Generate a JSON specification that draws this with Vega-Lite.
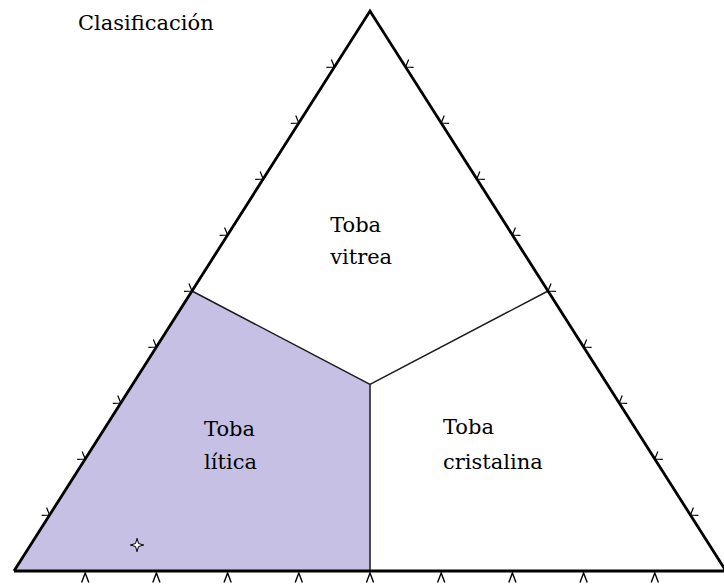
{
  "$schema": "https://vega.github.io/schema/vega-lite/v6.json",
  "width": 712,
  "height": 560,
  "padding": {"left": 14, "top": 11, "right": 0, "bottom": 13},
  "autosize": {"type": "none"},
  "background": "white",
  "config": {"view": {"stroke": null}},
  "datasets": {
    "outline": [
      {"i": 0, "x": 0, "y": 0},
      {"i": 1, "x": 0.5, "y": 1},
      {"i": 2, "x": 1, "y": 0},
      {"i": 3, "x": 0, "y": 0}
    ],
    "litica": [
      {"x": 0, "y": 0},
      {"x": 0.25, "y": 0.5},
      {"x": 0.5, "y": 0.3333}
    ],
    "bounds": [
      {"x": 0.5, "y": 0.3333, "x2": 0.25, "y2": 0.5},
      {"x": 0.5, "y": 0.3333, "x2": 0.75, "y2": 0.5},
      {"x": 0.5, "y": 0.3333, "x2": 0.5, "y2": 0}
    ],
    "ticksBottom": [
      {"x": 0.1, "y": 0}, {"x": 0.2, "y": 0}, {"x": 0.3, "y": 0},
      {"x": 0.4, "y": 0}, {"x": 0.5, "y": 0}, {"x": 0.6, "y": 0},
      {"x": 0.7, "y": 0}, {"x": 0.8, "y": 0}, {"x": 0.9, "y": 0}
    ],
    "ticksLeft": [
      {"x": 0.05, "y": 0.1}, {"x": 0.1, "y": 0.2}, {"x": 0.15, "y": 0.3},
      {"x": 0.2, "y": 0.4}, {"x": 0.25, "y": 0.5}, {"x": 0.3, "y": 0.6},
      {"x": 0.35, "y": 0.7}, {"x": 0.4, "y": 0.8}, {"x": 0.45, "y": 0.9}
    ],
    "ticksRight": [
      {"x": 0.95, "y": 0.1}, {"x": 0.9, "y": 0.2}, {"x": 0.85, "y": 0.3},
      {"x": 0.8, "y": 0.4}, {"x": 0.75, "y": 0.5}, {"x": 0.7, "y": 0.6},
      {"x": 0.65, "y": 0.7}, {"x": 0.6, "y": 0.8}, {"x": 0.55, "y": 0.9}
    ],
    "sample": [{"x": 0.1728, "y": 0.0464}],
    "labels": [
      {"label": "Clasificación", "x": 0.0899, "y": 0.977},
      {"label": "Toba", "x": 0.444, "y": 0.616},
      {"label": "vitrea", "x": 0.444, "y": 0.559},
      {"label": "Toba", "x": 0.267, "y": 0.252},
      {"label": "lítica", "x": 0.267, "y": 0.193},
      {"label": "Toba", "x": 0.6025, "y": 0.255},
      {"label": "cristalina", "x": 0.6025, "y": 0.193}
    ]
  },
  "layer": [
    {
      "data": {"name": "litica"},
      "mark": {"type": "area", "color": "#c6c0e4", "opacity": 1},
      "encoding": {
        "x": {"field": "x", "type": "quantitative", "scale": {"domain": [0, 1], "nice": false, "zero": false}, "axis": null},
        "y": {"field": "y", "type": "quantitative", "scale": {"domain": [0, 1], "nice": false, "zero": false}, "axis": null},
        "y2": {"datum": 0}
      }
    },
    {
      "data": {"name": "bounds"},
      "mark": {"type": "rule", "color": "#1a1a1a", "strokeWidth": 1.5},
      "encoding": {
        "x": {"field": "x", "type": "quantitative"},
        "y": {"field": "y", "type": "quantitative"},
        "x2": {"field": "x2"},
        "y2": {"field": "y2"}
      }
    },
    {
      "data": {"name": "outline"},
      "mark": {"type": "line", "color": "black", "strokeWidth": 2.8, "strokeJoin": "miter"},
      "encoding": {
        "x": {"field": "x", "type": "quantitative"},
        "y": {"field": "y", "type": "quantitative"},
        "order": {"field": "i", "type": "quantitative"}
      }
    },
    {
      "data": {"name": "ticksBottom"},
      "mark": {"type": "point", "filled": false, "stroke": "black", "strokeWidth": 1.4, "size": 81, "opacity": 1,
               "shape": "M-0.8,2.1L0,0L0.8,2.1", "yOffset": 2},
      "encoding": {
        "x": {"field": "x", "type": "quantitative"},
        "y": {"field": "y", "type": "quantitative"}
      }
    },
    {
      "data": {"name": "ticksLeft"},
      "mark": {"type": "point", "filled": false, "stroke": "black", "strokeWidth": 1.2, "size": 64, "opacity": 1,
               "shape": "M-2,0.08L0,0L-0.76,-1.85"},
      "encoding": {
        "x": {"field": "x", "type": "quantitative"},
        "y": {"field": "y", "type": "quantitative"}
      }
    },
    {
      "data": {"name": "ticksRight"},
      "mark": {"type": "point", "filled": false, "stroke": "black", "strokeWidth": 1.2, "size": 64, "opacity": 1,
               "shape": "M2,0.08L0,0L0.76,-1.85"},
      "encoding": {
        "x": {"field": "x", "type": "quantitative"},
        "y": {"field": "y", "type": "quantitative"}
      }
    },
    {
      "data": {"name": "sample"},
      "mark": {"type": "point", "filled": true, "fill": "white", "stroke": "black", "strokeWidth": 1, "size": 180, "opacity": 1,
               "shape": "M0,-1L0.22,-0.22L1,0L0.22,0.22L0,1L-0.22,0.22L-1,0L-0.22,-0.22Z"},
      "encoding": {
        "x": {"field": "x", "type": "quantitative"},
        "y": {"field": "y", "type": "quantitative"}
      }
    },
    {
      "data": {"name": "labels"},
      "mark": {"type": "text", "font": "DejaVu Serif", "fontSize": 21, "align": "left", "baseline": "middle", "color": "black"},
      "encoding": {
        "x": {"field": "x", "type": "quantitative"},
        "y": {"field": "y", "type": "quantitative"},
        "text": {"field": "label"}
      }
    }
  ]
}
